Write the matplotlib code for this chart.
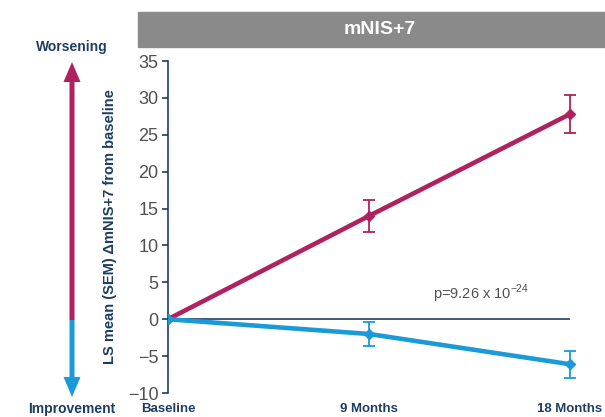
import matplotlib.pyplot as plt
from matplotlib.patches import Rectangle, FancyArrow

plt.rcParams['font.family'] = ['Liberation Sans Narrow', 'Liberation Sans', 'DejaVu Sans']
plt.rcParams['mathtext.fontset'] = 'custom'
plt.rcParams['mathtext.rm'] = 'Liberation Sans'

# LS mean change from baseline in mNIS+7
months = [0, 9, 18]
month_labels = ["Baseline", "9 Months", "18 Months"]
placebo_mean = [0, 14.0, 27.8]
placebo_sem = [0, 2.2, 2.6]
treated_mean = [0, -2.0, -6.1]
treated_sem = [0, 1.6, 1.8]
yticks = [-10, -5, 0, 5, 10, 15, 20, 25, 30, 35]

purple = "#B0215F"
blue = "#1A9BD7"
navy = "#1F3D63"
grey = "#505050"

W, H = 605, 417
fig = plt.figure(figsize=(6.05, 4.17), dpi=100)

# axes placed in pixel terms: y-spine at x=168, 0..18 spans 168..570
x0, x1 = 168, 590
y_top, y_bot = 61, 393
ax = fig.add_axes([x0 / W, 1 - y_bot / H, (x1 - x0) / W, (y_bot - y_top) / H])
ax.set_xlim(0, 18 * (x1 - x0) / (570 - x0))
ax.set_ylim(-10, 35)

ax.hlines(0, 0, 18, color=navy, lw=1.2, zorder=1)

ax.errorbar(months, placebo_mean, yerr=placebo_sem, color=purple, lw=3.3,
            marker="D", ms=5, elinewidth=1.3, capsize=4, capthick=1.3, zorder=3)
ax.errorbar(months, treated_mean, yerr=treated_sem, color=blue, lw=3.3,
            marker="D", ms=5, elinewidth=1.3, capsize=4, capthick=1.3, zorder=3)

for s in ["top", "right", "bottom"]:
    ax.spines[s].set_visible(False)
ax.spines["left"].set_color(navy)
ax.spines["left"].set_linewidth(1.2)

ax.set_yticks(yticks)
ax.tick_params(axis="y", colors=navy, labelcolor=grey, labelsize=13,
               length=4, width=1.2, pad=3)
ax.set_xticks(months)
ax.set_xticklabels(month_labels, fontsize=9.5, fontweight="bold", color=navy)
ax.tick_params(axis="x", length=0, pad=7)

ax.text(14.0, 1.9, r"p=9.26 x 10$^{\mathrm{-24}}$", fontsize=10.5, color=grey,
        ha="center", va="bottom")

ax.set_ylabel("LS mean (SEM) ΔmNIS+7 from baseline", fontsize=10.5,
              fontweight="bold", color=navy, labelpad=8)

# header bar
fig.patches.append(Rectangle((138 / W, 1 - 47 / H), (W - 138) / W, 35 / H,
                             transform=fig.transFigure, color="#8A8A8A",
                             zorder=0))
fig.text(380 / W, 1 - 29 / H, "mNIS+7", color="white", fontsize=14,
         fontweight="bold", ha="center", va="center")

# worsening / improvement arrows
ax_arrow = fig.add_axes([0, 0, 1, 1])
ax_arrow.set_xlim(0, W)
ax_arrow.set_ylim(H, 0)
ax_arrow.axis("off")
ax_arrow.add_patch(FancyArrow(72, 320, 0, -258, width=5, head_width=17,
                              head_length=20, length_includes_head=True,
                              color=purple, lw=0))
ax_arrow.add_patch(FancyArrow(72, 320, 0, 77, width=5, head_width=17,
                              head_length=20, length_includes_head=True,
                              color=blue, lw=0))
ax_arrow.text(72, 47, "Worsening", fontsize=10, fontweight="bold", color=navy,
              ha="center", va="center")
ax_arrow.text(72, 409, "Improvement", fontsize=10, fontweight="bold", color=navy,
              ha="center", va="center")

fig.savefig("out.png", dpi=100)
